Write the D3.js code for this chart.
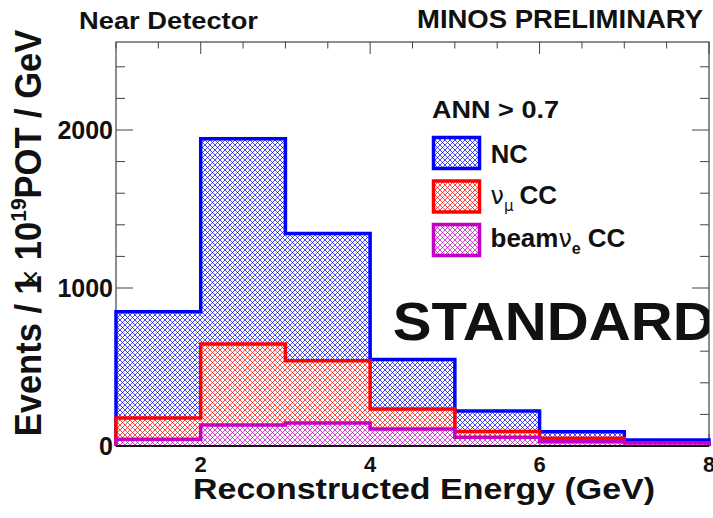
<!DOCTYPE html>
<html>
<head>
<meta charset="utf-8">
<script src="https://cdn.jsdelivr.net/npm/d3@7"></script>
<style>
  html, body { margin: 0; padding: 0; background: #fff; }
  text { font-family: "Liberation Sans", Arial, sans-serif; font-weight: bold; fill: #111; }
</style>
</head>
<body>
<div class="chart"></div>
<script>
// histogram bin edges (GeV) and contents (events / 1e19 POT / GeV)
const binEdges = [1, 2, 3, 4, 5, 6, 7, 8];
const ncEvents = [850, 1945, 1345, 548, 222, 90, 38];
const numuCCEvents = [178, 645, 540, 234, 91, 49, 20];
const beamNueEvents = [42, 133, 145, 108, 56, 27, 19];

const xTickLabels = [2, 4, 6, 8];
const yTickLabels = [0, 1000, 2000];

const series = [
  { key: 'nc', color: '#0000ff', values: ncEvents },
  { key: 'numu', color: '#ff0000', values: numuCCEvents },
  { key: 'nue', color: '#c400c4', values: beamNueEvents }
];

const width = 713, height = 518;
const x = d3.scaleLinear().domain([1, 8]).range([116, 709]);
const y = d3.scaleLinear().domain([0, 2557]).range([446, 42]);

const svg = d3.select('.chart')
  .append('svg')
  .attr('width', width)
  .attr('height', height);

// cross-hatch patterns, one per colour
const defs = svg.append('defs');
series.forEach(s => {
  const p = defs.append('pattern')
    .attr('id', 'hatch-' + s.key)
    .attr('patternUnits', 'userSpaceOnUse')
    .attr('width', 5).attr('height', 5);
  p.append('rect').attr('width', 5).attr('height', 5).attr('fill', '#fff');
  p.append('path')
    .attr('d', 'M-1,1 l2,-2 M0,5 l5,-5 M4,6 l2,-2 M-1,4 l2,2 M0,0 l5,5 M4,-1 l2,2')
    .attr('stroke', s.color)
    .attr('stroke-width', 0.9)
    .attr('stroke-opacity', 0.8);
});
defs.append('clipPath').attr('id', 'frame-clip')
  .append('rect').attr('x', 0).attr('y', 0).attr('width', 709).attr('height', height);

// ticks (drawn first so the histograms cover the ones inside)
const axisColor = '#444';
const g = svg.append('g');
const xMinor = d3.range(1, 8.01, 0.5);
const yMinor = d3.range(0, 2401, 200);

xMinor.forEach(v => {
  const len = xTickLabels.includes(v) ? 12 : 6.5;
  g.append('line').attr('x1', x(v)).attr('x2', x(v))
    .attr('y1', y.range()[1]).attr('y2', y.range()[1] + len)
    .attr('stroke', axisColor);
  g.append('line').attr('x1', x(v)).attr('x2', x(v))
    .attr('y1', y(0)).attr('y2', y(0) - len)
    .attr('stroke', axisColor);
});
yMinor.forEach(v => {
  const len = yTickLabels.includes(v) ? 17 : 9;
  g.append('line').attr('x1', x(1)).attr('x2', x(1) + len)
    .attr('y1', y(v)).attr('y2', y(v))
    .attr('stroke', axisColor);
  g.append('line').attr('x1', x(8)).attr('x2', x(8) - len)
    .attr('y1', y(v)).attr('y2', y(v))
    .attr('stroke', axisColor);
});

// frame
g.append('rect')
  .attr('x', x(1)).attr('y', y.range()[1])
  .attr('width', x(8) - x(1)).attr('height', y(0) - y.range()[1])
  .attr('fill', 'none').attr('stroke', axisColor).attr('stroke-width', 1.2);

// histograms
function stepPath(vals) {
  let d = 'M' + x(binEdges[0]) + ',' + y(0);
  vals.forEach((v, i) => {
    d += 'V' + y(v) + 'H' + x(binEdges[i + 1]);
  });
  return d + 'V' + y(0);
}

series.forEach(s => {
  svg.append('path')
    .attr('d', stepPath(s.values) + 'Z')
    .attr('fill', 'url(#hatch-' + s.key + ')');
  svg.append('path')
    .attr('d', stepPath(s.values))
    .attr('fill', 'none')
    .attr('stroke', s.color)
    .attr('stroke-width', 3.5)
    .attr('stroke-linejoin', 'miter');
});

// bottom axis line
svg.append('line')
  .attr('x1', x(1)).attr('x2', x(8))
  .attr('y1', y(0)).attr('y2', y(0))
  .attr('stroke', '#111').attr('stroke-width', 2);

// tick labels
svg.selectAll('.xlab')
  .data(xTickLabels)
  .enter().append('text')
  .attr('class', 'xlab')
  .attr('x', d => x(d))
  .attr('y', 471.5)
  .attr('text-anchor', 'middle')
  .style('font-size', '22px')
  .text(d => d);

svg.selectAll('.ylab')
  .data(yTickLabels)
  .enter().append('text')
  .attr('class', 'ylab')
  .attr('x', 113)
  .attr('y', d => y(d) + 8.6)
  .attr('text-anchor', 'end')
  .style('font-size', '25px')
  .text(d => d);

// axis titles
svg.append('text')
  .attr('x', 193).attr('y', 498.5)
  .attr('textLength', 462).attr('lengthAdjust', 'spacingAndGlyphs')
  .style('font-size', '30px')
  .text('Reconstructed Energy (GeV)');

const yTitle = svg.append('text')
  .attr('transform', 'translate(41,233) scale(1.06,1) rotate(-90)')
  .attr('text-anchor', 'middle')
  .style('font-size', '34.5px');
yTitle.append('tspan').text('Events / 1');
yTitle.append('tspan').attr('dx', -12).style('font-weight', 'normal').style('font-size', '30px').text('\u00d7');
yTitle.append('tspan').text(' 10');
yTitle.append('tspan').attr('dy', -14).style('font-size', '21px').text('19');
yTitle.append('tspan').attr('dy', 14).text('POT / GeV');

// headers
svg.append('text')
  .attr('x', 79).attr('y', 29)
  .attr('textLength', 179).attr('lengthAdjust', 'spacingAndGlyphs')
  .style('font-size', '24px')
  .text('Near Detector');
svg.append('text')
  .attr('x', 417).attr('y', 28.3)
  .attr('textLength', 286).attr('lengthAdjust', 'spacingAndGlyphs')
  .style('font-size', '25px')
  .text('MINOS PRELIMINARY');

// big label
svg.append('text')
  .attr('clip-path', 'url(#frame-clip)')
  .attr('x', 392.7).attr('y', 340)
  .attr('textLength', 322).attr('lengthAdjust', 'spacingAndGlyphs')
  .style('font-size', '53.5px')
  .text('STANDARD');

// legend
svg.append('text')
  .attr('x', 432).attr('y', 118.3)
  .attr('textLength', 127).attr('lengthAdjust', 'spacingAndGlyphs')
  .style('font-size', '24.5px')
  .text('ANN > 0.7');

const legendTop = [136, 179.5, 223];
series.forEach((s, i) => {
  svg.append('rect')
    .attr('x', 433.5).attr('y', legendTop[i] + 1.5)
    .attr('width', 46).attr('height', 31)
    .attr('fill', 'url(#hatch-' + s.key + ')')
    .attr('stroke', s.color).attr('stroke-width', 3.5);
});

svg.append('text')
  .attr('x', 490.7).attr('y', 162.7)
  .attr('textLength', 37).attr('lengthAdjust', 'spacingAndGlyphs')
  .style('font-size', '26px')
  .text('NC');

const greek = 'DejaVu Sans, sans-serif';
const numuLab = svg.append('text').attr('x', 490.5).attr('y', 204).style('font-size', '26px');
numuLab.append('tspan').style('font-weight', 'normal').style('font-family', greek).style('font-size', '24px').text('\u03bd');
numuLab.append('tspan').attr('dy', 7).style('font-weight', 'normal').style('font-family', greek).style('font-size', '15px').text('\u03bc');
numuLab.append('tspan').attr('dy', -7).attr('dx', 6).text('CC');

const nueLab = svg.append('text').attr('x', 490.5).attr('y', 246.5).style('font-size', '26px');
nueLab.append('tspan').text('beam');
nueLab.append('tspan').style('font-weight', 'normal').style('font-family', greek).style('font-size', '24px').text('\u03bd');
nueLab.append('tspan').attr('dy', 7).style('font-size', '16px').text('e');
nueLab.append('tspan').attr('dy', -7).attr('dx', 7).text('CC');
</script>
</body>
</html>
